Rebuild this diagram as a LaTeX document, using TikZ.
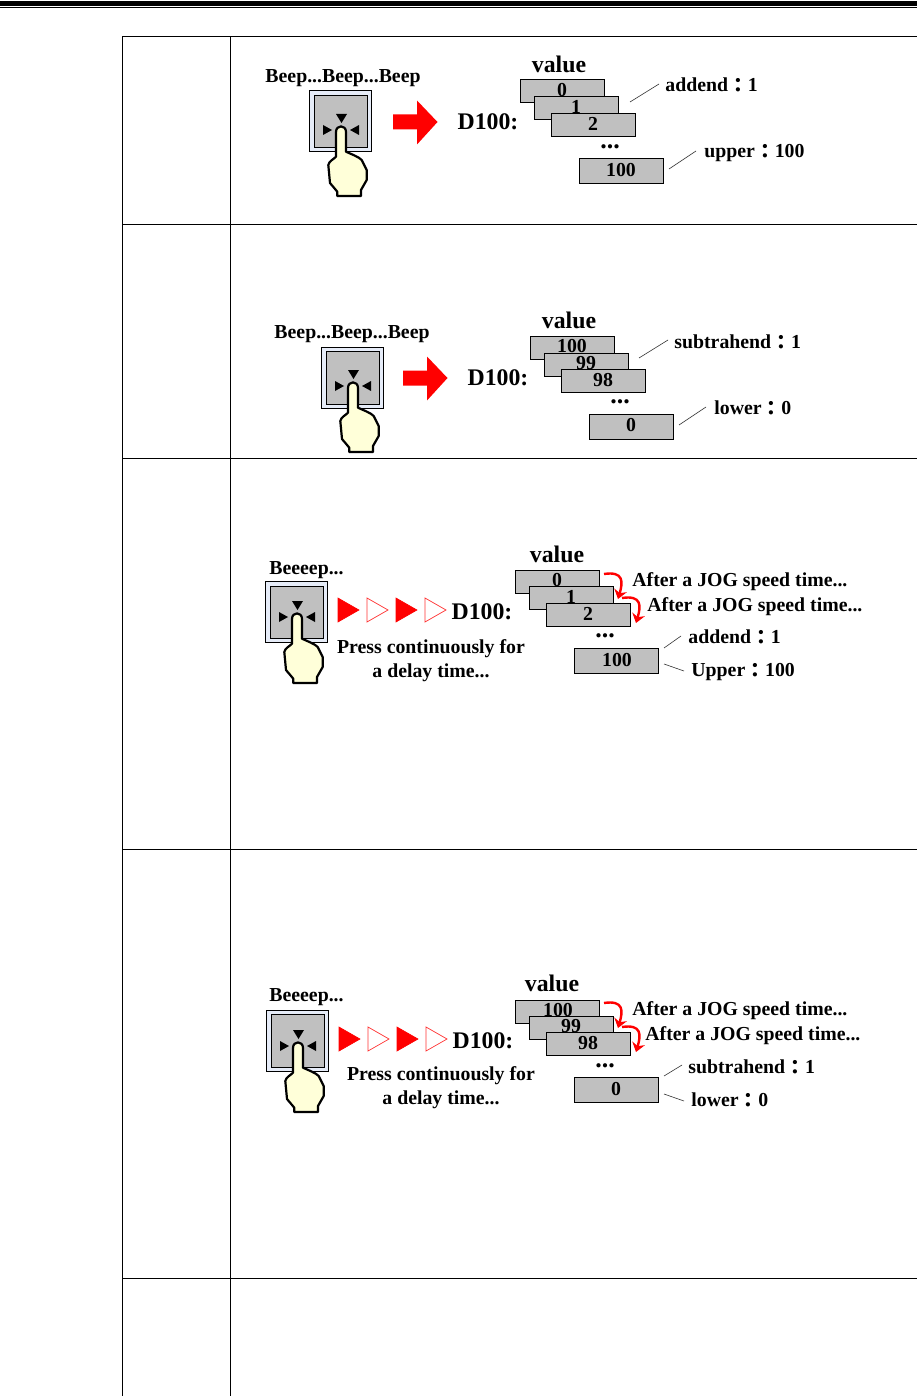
\documentclass[tikz,border=0pt]{standalone}
\usepackage{fontspec}
\setmainfont{Liberation Serif}
\newfontfamily\cjkfont{Noto Sans CJK TC}
\newcommand{\fc}{\raisebox{-0.5pt}{\cjkfont ：}}
\usetikzlibrary{arrows.meta}
\definecolor{boxgray}{HTML}{C0C0C0}
\definecolor{handfill}{HTML}{FFFFD9}
\definecolor{btnedge}{HTML}{E6ECF8}
\tikzset{
  rulel/.style={line width=0.5pt,black},
  txt/.style={font=\bfseries\fontsize{9.9}{11}\selectfont,inner sep=0pt,text=black,yshift=-0.8pt},
  digit/.style={font=\bfseries\fontsize{9.9}{11}\selectfont,inner sep=0pt,text=black},
  dots/.style={font=\bfseries\fontsize{13}{14}\selectfont,inner sep=0pt,text=black},
  big/.style={font=\bfseries\fontsize{11.9}{13}\selectfont,inner sep=0pt,text=black,yshift=-0.3pt},
  valbx/.style={draw=black,line width=0.5pt,fill=boxgray,inner sep=0pt,anchor=north west,minimum width=42pt},
  leaderl/.style={line width=0.3pt,black!80},
  redarrow/.style={fill=red,draw=none},
  solidtri/.style={fill=red,draw=red,line width=0.3pt},
  hollowtri/.style={fill=white,draw=red!80,line width=0.35pt},
  joga/.style={draw=red,line width=1.2pt,-{Stealth[length=4.5pt,width=6.5pt]}}
}
\newcommand{\btnhand}[3]{%
 \begin{scope}[shift={(#1,#2)}]
  \path[draw=black,line width=0.5pt,fill=btnedge] (0,0) rectangle (62,61);
  \path[draw=black,line width=0.5pt,fill=boxgray] (5,4.5) rectangle (58.5,57);
  \begin{scope}[shift={(0,#3)}]
  \fill[black] (27,23) -- (38,23) -- (32.5,32) -- cycle;
  \fill[black] (14,34) -- (23,39) -- (14,44) -- cycle;
  \fill[black] (50,34) -- (41,39) -- (50,44) -- cycle;
  \path[draw=black,line width=1.1pt,fill=handfill,line join=round]
    (27,41) .. controls (27,33.5) and (37,33.5) .. (37,41)
    -- (37,60.7) .. controls (42,63) and (50,66) .. (52.7,69)
    -- (57.7,79) -- (57.7,89) -- (52,99) -- (52,105) -- (28.3,105) -- (28.3,100.7)
    -- (21,92) -- (19.3,74) .. controls (20,70) and (25,68) .. (27,65.7) -- cycle;
  \end{scope}
 \end{scope}}
\newcommand{\valbox}[7]{%
  \node[valbx,minimum height=#4*0.5pt] (#1) at (#2,#3) {};
  \node[digit] (#1t) at (#5,#6) {#7};}
\newcommand{\leaderline}[5]{%
  \coordinate (#1a) at (#2,#3); \coordinate (#1b) at (#4,#5);
  \draw[leaderl] (#1a) -- (#1b);}
\newcommand{\redshift}[2]{%
  \fill[redarrow] (#1,#2-7.5) -- (#1+24,#2-7.5) -- (#1+24,#2-21.5) -- (#1+44.5,#2) -- (#1+24,#2+22.5) -- (#1+24,#2+7.5) -- (#1,#2+7.5) -- cycle;}
\newcommand{\tris}[2]{%
  \path[solidtri] (#1,#2-12) -- (#1+21,#2) -- (#1,#2+12) -- cycle;
  \path[hollowtri] (#1+29,#2-12) -- (#1+50,#2) -- (#1+29,#2+12) -- cycle;
  \path[solidtri] (#1+58,#2-12) -- (#1+79,#2) -- (#1+58,#2+12) -- cycle;
  \path[hollowtri] (#1+87,#2-12) -- (#1+108,#2) -- (#1+87,#2+12) -- cycle;}
\newcommand{\jogarrow}[2]{%
  \draw[joga] (#1,#2) .. controls (#1+20,#2-3) and (#1+19,#2+8) .. (#1+14,#2+25);}
\begin{document}
\begin{tikzpicture}[x=0.5pt,y=-0.5pt]
\useasboundingbox (0,0) rectangle (917,1396);
\fill[white] (0,0) rectangle (917,1396);
% top rule
\fill[black] (0,1) rectangle (917,6);
\fill[black] (0,7) rectangle (917,8.2);
% table
\draw[rulel] (122.5,1396) -- (122.5,36.5) -- (917,36.5);
\draw[rulel] (230.5,36.5) -- (230.5,1396);
\draw[rulel] (122.5,224.5) -- (917,224.5);
\draw[rulel] (122.5,458.5) -- (917,458.5);
\draw[rulel] (122.5,849.5) -- (917,849.5);
\draw[rulel] (122.5,1278.5) -- (917,1278.5);

% panel 1
\node[txt] (p1b) at (343,77) {Beep...Beep...Beep};
\btnhand{309}{91}{0}
\redshift{393}{122}
\node[big] (p1d) at (488,121) {D100:};
\node[big] (p1v) at (559,64) {value};
\valbox{p1a}{520}{79}{23}{562}{90}{0}
\valbox{p1c}{534}{96}{23}{576}{107}{1}
\valbox{p1e}{551}{113}{23}{593}{124}{2}
\node[dots] (p1g) at (610,147) {...};
\valbox{p1f}{579}{158}{25}{621}{170}{100}
\leaderline{p1l}{630}{102}{659}{84}
\leaderline{p1m}{669}{169}{696}{151}
\node[txt,anchor=west] (p1x) at (665,84) {addend\fc 1};
\node[txt,anchor=west] (p1y) at (704,151) {upper\fc 100};

% panel 2
\node[txt] (p2b) at (352,333) {Beep...Beep...Beep};
\btnhand{321}{347}{0}
\redshift{403}{378}
\node[big] (p2d) at (498,377) {D100:};
\node[big] (p2v) at (569,320) {value};
\valbox{p2a}{530}{336}{23}{572}{346}{100}
\valbox{p2c}{544}{353}{23}{586}{363}{99}
\valbox{p2e}{561}{369}{23}{603}{380}{98}
\node[dots] (p2g) at (620,402) {...};
\valbox{p2f}{589}{414}{25}{631}{425}{0}
\leaderline{p2l}{639}{358}{668}{340}
\leaderline{p2m}{679}{425}{706}{407}
\node[txt,anchor=west] (p2x) at (674,341) {subtrahend\fc 1};
\node[txt,anchor=west] (p2y) at (714,407) {lower\fc 0};

% panel 3
\node[txt,anchor=west] (p3b) at (269,569) {Beeeep...};
\btnhand{265}{581.5}{-3.5}
\tris{338}{610}
\node[big] (p3d) at (482,611) {D100:};
\node[txt] (p3p) at (431,647) {Press continuously for};
\node[txt] (p3q) at (431,671) {a delay time...};
\node[big] (p3v) at (557,554) {value};
\valbox{p3a}{515}{570}{23}{557}{580}{0}
\valbox{p3c}{529}{586}{23}{571}{597}{1}
\valbox{p3e}{546}{603}{23}{588}{614}{2}
\jogarrow{604}{574}
\jogarrow{622}{598}
\node[txt,anchor=west] (p3j) at (632,580) {After a JOG speed time...};
\node[txt,anchor=west] (p3k) at (647,605) {After a JOG speed time...};
\node[dots] (p3g) at (605,636) {...};
\valbox{p3f}{574}{648}{25}{617}{660}{100}
\leaderline{p3l}{664}{648}{681}{636}
\leaderline{p3m}{664}{664}{684}{671}
\node[txt,anchor=west] (p3x) at (688,636) {addend\fc 1};
\node[txt,anchor=west] (p3y) at (691,670) {Upper\fc 100};

% panel 4
\node[txt,anchor=west] (p4b) at (269,996) {Beeeep...};
\btnhand{266}{1010}{-3}
\tris{339}{1039}
\node[big] (p4d) at (483,1040) {D100:};
\node[txt] (p4p) at (441,1074) {Press continuously for};
\node[txt] (p4q) at (441,1098) {a delay time...};
\node[big] (p4v) at (552,983) {value};
\valbox{p4a}{515}{1000}{23}{558}{1010}{100}
\valbox{p4c}{529}{1016}{23}{571}{1026}{99}
\valbox{p4e}{546}{1032}{23}{588}{1043}{98}
\jogarrow{604}{1003}
\jogarrow{622}{1027}
\node[txt,anchor=west] (p4j) at (632,1009) {After a JOG speed time...};
\node[txt,anchor=west] (p4k) at (645,1034) {After a JOG speed time...};
\node[dots] (p4g) at (605,1066) {...};
\valbox{p4f}{574}{1077}{25}{616}{1089}{0}
\leaderline{p4l}{664}{1076}{682}{1065}
\leaderline{p4m}{664}{1094}{684}{1101}
\node[txt,anchor=west] (p4x) at (688,1066) {subtrahend\fc 1};
\node[txt,anchor=west] (p4y) at (691,1099) {lower\fc 0};
\end{tikzpicture}
\end{document}
